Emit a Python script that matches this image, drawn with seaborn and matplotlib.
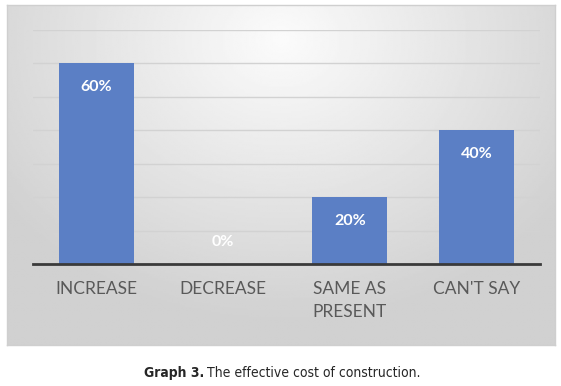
import numpy as np
import pandas as pd
import seaborn as sns
import matplotlib.pyplot as plt

categories = ["INCREASE", "DECREASE", "SAME AS\nPRESENT", "CAN'T SAY"]
values = [60, 0, 20, 40]
labels = ["60%", "0%", "20%", "40%"]

df = pd.DataFrame({"answer": categories, "share": values})

sns.set_style("white")
plt.rcParams['font.family'] = ['Lato', 'DejaVu Sans']

fig = plt.figure(figsize=(5.61, 3.86), dpi=100)

# gradient panel behind the chart
W, H = 561, 386
bg = fig.add_axes([7 / W, 1 - 345 / H, 548 / W, 340 / H])
yy, xx = np.mgrid[0:1:200j, 0:1:300j]
r = np.sqrt(((xx - 0.5) / 0.75) ** 2 + ((yy - 0.1) / 1.0) ** 2)
shade = np.clip(0.985 - 0.2 * r, 0.82, 1.0)
bg.imshow(shade, cmap="gray", vmin=0, vmax=1, aspect="auto", extent=[0, 1, 1, 0])
bg.set_xticks([])
bg.set_yticks([])
for s in bg.spines.values():
    s.set_color("#cfcfcf")
    s.set_linewidth(1)

ax = fig.add_axes([33 / W, 1 - 264 / H, 507 / W, 234 / H])
ax.patch.set_alpha(0)
sns.barplot(data=df, x="answer", y="share", color="#5b7fc5", saturation=1,
            width=0.59, linewidth=0, ax=ax, zorder=3)
ax.set_ylim(0, 70)
ax.set_yticks(range(0, 71, 10))
ax.yaxis.grid(True, color="#d2d2d2", linewidth=1, zorder=0)
ax.set_yticklabels([])
ax.tick_params(axis="y", length=0)
ax.tick_params(axis="x", length=0, pad=12, labelsize=12.5, labelcolor="#595959")
for t in ax.get_xticklabels():
    t.set_linespacing(1.55)
ax.set_xlabel("")
ax.set_ylabel("")
for s in ["top", "right", "left"]:
    ax.spines[s].set_visible(False)
ax.spines["bottom"].set_color("#3a3a3a")
ax.spines["bottom"].set_linewidth(2)
ax.spines["bottom"].set_zorder(4)

for i, (v, lab) in enumerate(zip(values, labels)):
    off = -24 if v > 0 else 22
    ax.annotate(lab, (i, v), xytext=(0, off), textcoords="offset pixels",
                ha="center", va="center", color="white", fontsize=11.5,
                fontweight="bold", zorder=5)

cap_font = ['DejaVu Sans', 'Liberation Sans']
fig.text(204 / W, 1 - 373 / H, "Graph 3.", ha="right", va="center",
         fontsize=10, fontweight="bold", fontstretch="condensed", family=cap_font)
fig.text(207 / W, 1 - 373 / H, "The effective cost of construction.", ha="left",
         va="center", fontsize=10, fontstretch="condensed", family=cap_font)

fig.savefig("out.png", dpi=100)
